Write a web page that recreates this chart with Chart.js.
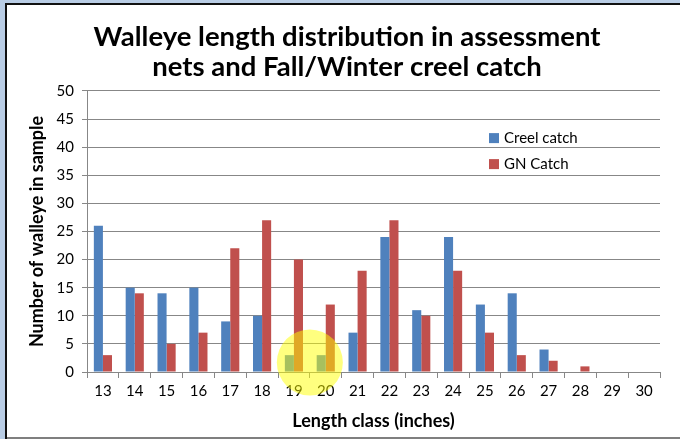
<!DOCTYPE html>
<html>
<head>
<meta charset="utf-8">
<script src="https://cdn.jsdelivr.net/npm/chart.js@4"></script>
<style>
  html, body { margin: 0; padding: 0; background: #fff; }
  #wrap { width: 680px; height: 439px; }
</style>
</head>
<body>
<div id="wrap"><canvas id="walleyeChart" width="680" height="439"></canvas></div>
<script>
'use strict';

const lengthClasses = ['13', '14', '15', '16', '17', '18', '19', '20', '21', '22', '23', '24', '25', '26', '27', '28', '29', '30'];
const creelCatch = [26, 15, 14, 15, 9, 10, 3, 3, 7, 24, 11, 24, 12, 14, 4, 0, 0, 0];
const gnCatch = [3, 14, 5, 7, 22, 27, 20, 12, 18, 27, 10, 18, 7, 3, 2, 1, 0, 0];
const titleLines = ['Walleye length distribution in assessment', 'nets and Fall/Winter creel catch'];

const BLUE = '#4F81BD';
const RED = '#C0504D';
const GRID = '#878787';
const FONT = 'Lato, "Open Sans", sans-serif';

// frame: light blue strip + dark line on top/left, grey line at bottom
const framePlugin = {
  id: 'frame',
  beforeDraw(chart) {
    const ctx = chart.ctx;
    ctx.save();
    ctx.fillStyle = '#fff';
    ctx.fillRect(0, 0, chart.width, chart.height);
    ctx.fillStyle = '#B9CDE5';
    ctx.fillRect(0, 0, chart.width, 3);
    ctx.fillRect(0, 0, 5, chart.height);
    ctx.fillStyle = '#111';
    ctx.fillRect(5, 3, chart.width - 5, 2);
    ctx.fillRect(5, 3, 2, chart.height - 3);
    ctx.fillStyle = '#7F7F7F';
    ctx.fillRect(7, chart.height - 2, chart.width - 7, 2);
    ctx.restore();
  }
};

// yellow highlight over the 19 and 20 bars
const highlightPlugin = {
  id: 'highlight',
  afterDatasetsDraw(chart) {
    const x = chart.scales.x, y = chart.scales.y;
    const cx = (x.getPixelForValue(6) + x.getPixelForValue(7)) / 2;
    const cy = y.getPixelForValue(1.7);
    const ctx = chart.ctx;
    ctx.save();
    ctx.beginPath();
    ctx.arc(cx, cy, 33, 0, Math.PI * 2);
    ctx.fillStyle = 'rgba(255, 255, 0, 0.5)';
    ctx.fill();
    ctx.restore();
  }
};

// legend drawn inside the plot, right side
const insetLegend = {
  id: 'insetLegend',
  afterDraw(chart) {
    const ctx = chart.ctx;
    const y = chart.scales.y;
    ctx.save();
    ctx.font = '15px ' + FONT;
    ctx.textBaseline = 'middle';
    chart.data.datasets.forEach((ds, i) => {
      const top = y.getPixelForValue(42.5) + i * 26;
      ctx.fillStyle = ds.backgroundColor;
      ctx.fillRect(489, top, 10, 10);
      ctx.fillStyle = '#000';
      ctx.fillText(ds.label, 504, top + 5);
    });
    ctx.restore();
  }
};

new Chart(document.getElementById('walleyeChart'), {
  type: 'bar',
  data: {
    labels: lengthClasses,
    datasets: [
      { label: 'Creel catch', data: creelCatch, backgroundColor: BLUE, categoryPercentage: 0.57, barPercentage: 1 },
      { label: 'GN Catch', data: gnCatch, backgroundColor: RED, categoryPercentage: 0.57, barPercentage: 1 }
    ]
  },
  options: {
    responsive: false,
    animation: false,
    layout: { padding: { left: 14, right: 0, top: 5, bottom: 8 } },
    plugins: {
      legend: { display: false },
      tooltip: { enabled: false },
      title: {
        display: true,
        text: titleLines,
        color: '#000',
        font: { family: FONT, size: 27.5, weight: 'bold', lineHeight: 1.09 },
        padding: { top: 17, bottom: 9 }
      }
    },
    scales: {
      x: {
        z: 1,
        grid: { drawOnChartArea: false, color: GRID, tickLength: 6, offset: true },
        border: { color: GRID },
        ticks: { color: '#000', font: { family: FONT, size: 15 }, padding: 4, maxRotation: 0 },
        title: {
          display: true,
          text: 'Length class (inches)',
          color: '#000',
          font: { family: FONT, size: 18, weight: 'bold', lineHeight: 1 },
          padding: { top: 4, bottom: 1 }
        },
        afterFit(scale) { scale.height = 59; }
      },
      y: {
        min: 0,
        max: 50,
        grid: { color: GRID, tickLength: 5 },
        border: { color: GRID },
        ticks: { stepSize: 5, color: '#000', font: { family: FONT, size: 15 }, padding: 8 },
        title: {
          display: true,
          text: 'Number of walleye in sample',
          color: '#000',
          font: { family: FONT, size: 18, weight: 'bold', lineHeight: 1 },
          padding: { top: 14, bottom: 0 }
        },
        afterFit(scale) { scale.width = 73; }
      },
      // empty right margin so the title centres like the original
      yRight: {
        position: 'right',
        grid: { display: false },
        border: { display: false },
        ticks: { display: false },
        afterFit(scale) { scale.width = 20; }
      }
    }
  },
  plugins: [framePlugin, highlightPlugin, insetLegend]
});
</script>
</body>
</html>
